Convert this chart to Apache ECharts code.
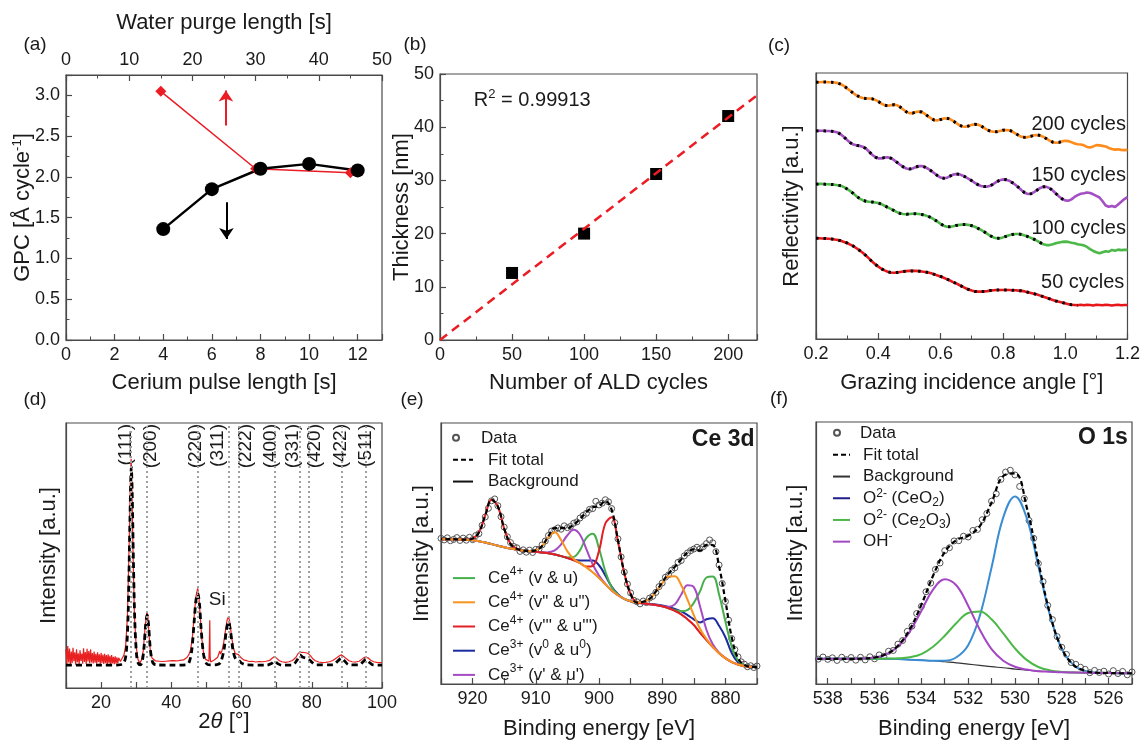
<!DOCTYPE html>
<html>
<head>
<meta charset="utf-8">
<title>CeO2 ALD characterisation</title>
<script src="https://cdn.jsdelivr.net/npm/echarts@6/dist/echarts.min.js"></script>
<style>
  html, body { margin: 0; padding: 0; background: #ffffff; }
  #chart { width: 1143px; height: 742px; }
</style>
</head>
<body>
<div id="chart"></div>
<script>
// ---------- (a) growth per cycle ----------
const pulseLength = [4, 6, 8, 10, 12];            // cerium pulse [s]
const gpcPulse    = [1.36, 1.85, 2.10, 2.16, 2.08];
const purgeLength = [15, 30, 45];                  // water purge [s]
const gpcPurge    = [3.05, 2.10, 2.05];
const purgeArrow  = [[25.3, 2.63], [25.3, 3.06]];  // points to the top axis
const pulseArrow  = [[6.6, 1.69], [6.6, 1.24]];    // points to the bottom axis

// ---------- (b) thickness vs. cycles ----------
const aldCycles = [50, 100, 150, 200];
const thickness = [12.6, 20.0, 31.2, 42.1];
const linearFit = [[0, 0], [220, 46.0]];
const rSquared  = '0.99913';

// ---------- (c) X-ray reflectivity, 0.20..1.20 deg in 0.01 steps ----------
const xrrStart = 0.2, xrrStep = 0.01;
const xrr200 = [96.5,96.5,96.6,96.6,96.5,96.5,96.4,96.2,95.8,95.1,
  94.2,93.3,92.4,91.6,91.0,90.6,90.4,90.4,90.3,89.9,
  89.3,88.5,87.9,87.7,87.9,88.1,87.9,87.2,86.3,85.4,
  84.9,84.9,85.3,85.5,85.3,84.6,83.7,82.9,82.3,82.2,
  82.5,82.9,83.0,82.7,82.0,81.2,80.4,79.9,79.8,80.1,
  80.5,80.7,80.6,80.1,79.3,78.6,78.1,77.9,77.9,78.2,
  78.5,78.6,78.5,78.0,77.3,76.6,76.0,75.8,75.9,76.2,
  76.6,76.7,76.5,76.0,75.3,74.6,74.0,73.8,73.9,74.3,
  74.5,74.4,74.0,73.5,73.2,73.1,72.8,72.2,72.0,72.4,
  72.9,72.8,72.6,72.4,71.8,71.4,71.2,71.3,71.1,71.0,
  71.1];
const xrr150 = [78.2,78.3,78.3,78.2,78.2,78.1,77.9,77.6,76.9,75.9,
  74.8,73.8,73.1,72.8,72.6,72.3,71.6,70.5,69.3,68.4,
  67.9,67.9,68.2,68.3,68.0,67.3,66.4,65.5,64.7,64.1,
  63.9,64.1,64.6,65.0,65.0,64.6,64.0,63.2,62.3,61.4,
  60.7,60.4,60.6,61.2,61.8,62.0,61.9,61.5,60.9,60.2,
  59.5,58.7,58.0,57.5,57.3,57.3,57.6,58.3,59.1,59.7,
  60.0,59.9,59.5,58.8,58.0,57.0,55.9,55.0,54.5,54.6,
  55.2,56.0,56.8,57.2,57.2,56.7,55.8,54.7,53.6,52.7,
  52.1,52.0,52.5,53.4,54.1,54.6,54.8,55.1,54.9,54.4,
  53.8,53.2,51.8,50.2,49.7,50.0,49.6,50.6,51.6,52.6,
  53.3];
const xrr100 = [58.2,58.3,58.3,58.2,58.2,58.1,58.0,57.8,57.6,57.1,
  56.4,55.6,54.7,53.7,52.8,52.2,51.8,51.6,51.5,51.3,
  51.1,50.7,50.1,49.5,48.9,48.3,47.7,47.2,47.0,46.9,
  47.0,47.1,47.1,47.0,46.8,46.5,46.1,45.6,44.9,44.1,
  43.3,42.6,42.2,42.2,42.4,42.7,42.9,43.0,43.0,42.9,
  42.6,42.2,41.6,41.0,40.3,39.5,38.8,38.2,37.9,37.9,
  38.2,38.6,39.0,39.3,39.5,39.5,39.3,38.9,38.5,38.0,
  37.5,36.9,36.2,35.6,35.3,35.3,35.6,36.0,36.3,36.5,
  36.6,36.5,36.2,36.0,35.6,35.4,35.2,34.6,33.8,33.1,
  32.6,32.2,32.6,33.0,32.8,33.5,33.2,33.6,33.4,33.5,
  33.5];
const xrr50 = [37.9,37.9,37.8,37.8,37.7,37.6,37.4,37.2,36.9,36.5,
  36.1,35.5,34.9,34.1,33.3,32.4,31.4,30.3,29.1,28.1,
  27.2,26.4,25.8,25.3,25.0,24.9,25.0,25.2,25.4,25.5,
  25.6,25.6,25.6,25.5,25.4,25.2,25.0,24.7,24.3,23.9,
  23.5,23.0,22.5,22.0,21.4,20.9,20.3,19.7,19.1,18.6,
  18.2,17.9,17.8,17.8,17.9,18.0,18.2,18.3,18.4,18.4,
  18.4,18.4,18.4,18.3,18.3,18.2,18.1,17.9,17.6,17.3,
  17.0,16.7,16.3,15.9,15.5,15.1,14.7,14.3,14.0,13.7,
  13.4,13.1,12.9,12.8,12.7,12.9,12.7,12.9,12.8,12.6,
  12.9,12.8,12.7,12.9,12.8,12.6,12.8,12.9,12.7,12.8,
  12.8];
const xrrLabels   = ['200 cycles', '150 cycles', '100 cycles', '50 cycles'];
const xrrFitEnd   = [1.00, 1.00, 0.94, 1.04];     // last angle of each fitted range

// ---------- (d) XRD ----------
const xrdScan = [
  [10.00,14.6],[10.25,8.9],[10.50,15.8],[10.75,9.6],[11.00,14.9],[11.25,8.6],[11.50,13.8],[11.75,9.4],
  [12.00,15.2],[12.25,10.1],[12.50,13.5],[12.75,8.8],[13.00,14.6],[13.25,9.7],[13.50,13.1],[13.75,9.0],
  [14.00,14.2],[14.25,10.2],[14.50,13.0],[14.75,9.2],[15.00,15.0],[15.25,9.8],[15.50,13.6],[15.75,9.1],
  [16.00,14.8],[16.25,10.0],[16.50,13.9],[16.75,9.4],[17.00,14.6],[17.25,9.6],[17.50,13.2],[17.75,9.3],
  [18.00,13.8],[18.25,9.5],[18.50,12.9],[18.75,9.2],[19.00,13.5],[19.25,9.8],[19.50,12.7],[19.75,9.0],
  [20.00,13.3],[20.25,9.5],[20.50,12.6],[20.75,9.1],[21.00,12.9],[21.25,9.4],[21.50,12.4],[21.75,9.0],
  [22.00,12.7],[22.25,9.4],[22.50,12.1],[22.75,8.9],[23.00,12.4],[23.25,9.3],[23.50,11.8],[23.75,9.0],
  [24.00,12.0],[24.25,9.2],[24.50,11.6],[24.75,9.3],[25.00,11.4],[25.50,10.0],[26.00,11.2],[26.50,12.4],
  [27.00,16.0],[27.50,27.0],[28.00,55.0],[28.30,76.0],[28.55,86.5],[28.80,74.0],[29.10,50.0],[29.50,27.0],
  [30.00,15.5],[30.50,10.8],[31.00,9.4],[31.50,10.5],[32.00,14.0],[32.50,22.5],[33.00,28.8],[33.30,27.5],
  [33.60,21.0],[34.00,14.2],[34.50,11.3],[35.00,10.6],[35.50,10.2],[36.00,10.7],[36.50,10.1],[37.00,10.5],
  [37.50,10.0],[38.00,10.4],[38.50,10.1],[39.00,10.6],[39.50,10.2],[40.00,10.5],[40.50,10.3],[41.00,10.7],
  [41.50,10.2],[42.00,10.6],[42.50,10.4],[43.00,10.9],[43.50,10.6],[44.00,11.2],[44.50,11.6],[45.00,12.6],
  [45.50,14.5],[46.00,19.0],[46.50,27.0],[47.00,34.5],[47.50,37.6],[47.80,35.5],[48.20,27.5],[48.70,18.5],
  [49.20,13.0],[49.70,10.9],[50.20,10.3],[50.70,10.1],[50.85,18.0],[50.95,25.6],[51.05,12.0],[51.20,9.8],
  [51.70,10.2],[52.20,10.6],[52.70,11.1],[53.20,11.6],[53.60,12.3],[53.80,14.0],[54.00,12.8],[54.40,14.0],
  [54.90,17.0],[55.40,21.5],[55.90,25.8],[56.30,27.0],[56.70,24.5],[57.20,19.0],[57.70,15.0],[58.20,13.0],
  [58.70,12.5],[59.10,12.6],[59.60,11.8],[60.20,11.0],[60.80,10.5],[61.50,10.3],[62.20,10.0],[63.00,10.1],
  [64.00,9.8],[65.00,10.0],[66.00,9.9],[67.00,10.1],[68.00,10.4],[68.70,11.2],[69.40,11.9],[70.10,11.1],
  [70.80,10.3],[71.50,9.9],[72.50,9.7],[73.50,9.9],[74.50,10.4],[75.50,11.6],[76.20,13.2],[76.70,13.9],
  [77.20,13.5],[77.70,13.1],[78.30,13.3],[79.00,13.0],[79.60,12.2],[80.30,11.0],[81.00,10.3],[82.00,9.8],
  [83.00,9.6],[84.00,9.7],[85.00,9.9],[86.00,10.4],[87.00,11.3],[87.80,12.1],[88.40,12.5],[89.00,12.0],
  [89.80,11.1],[90.60,10.3],[91.50,9.9],[92.50,9.8],[93.50,10.1],[94.30,10.9],[95.00,11.6],[95.40,11.8],
  [96.00,11.4],[96.80,10.5],[97.60,9.9],[98.50,9.7],[99.30,9.6],[100.00,9.6]
];
const xrdFit = [
  [10,8.6],[20,8.6],[25,8.7],[26.5,9.5],[27.2,14],[27.7,28],[28.1,55],[28.4,76],[28.6,83.4],[28.85,74],
  [29.2,48],[29.6,25],[30.1,12.5],[30.6,9.2],[31.2,8.7],[31.7,10],[32.2,15],[32.7,24],[33.1,27.5],[33.5,24],
  [34.0,15],[34.6,10],[35.5,8.8],[40,8.6],[44,8.7],[45,9.5],[45.8,14],[46.5,25],[47.0,33],[47.5,35.7],
  [48.0,32],[48.5,22],[49.2,12.5],[50.0,9.2],[51,8.7],[53,8.8],[54,9.6],[55,14.5],[55.7,22],[56.3,25],
  [56.9,21],[57.6,14],[58.3,11],[59.1,10.6],[60,9.4],[61.5,8.7],[67,8.6],[68.5,9.2],[69.4,10.2],[70.3,9.2],
  [71.5,8.6],[74.5,8.7],[75.8,10.5],[76.7,12.4],[77.5,11.6],[79.0,11.0],[80.0,9.8],[81.2,8.7],[86,8.7],[87.5,10.3],
  [88.4,11.3],[89.3,10.3],[90.5,8.8],[93.5,8.7],[94.6,9.9],[95.4,10.8],[96.3,9.8],[97.5,8.7],[100,8.6]
];
const reflexAngle      = [28.55, 33.08, 47.48, 56.34, 59.09, 69.40, 76.70, 79.07, 88.44, 95.40];
const reflexHkl        = ['(111)', '(200)', '(220)', '(311)', '(222)', '(400)', '(331)', '(420)', '(422)', '(511)'];
const reflexLabelAngle = [26.9, 34.2, 46.9, 53.3, 61.3, 68.4, 74.6, 80.8, 88.3, 95.5];
const siReflex         = [50.65, 33.2];

// ---------- (e) Ce 3d XPS, 875..925 eV in 1 eV steps ----------
const ceStart = 875, ceStep = 1;
const ceBackground = [6.5,6.6,6.9,7.5,8.4,9.9,11.8,14.2,16.8,19.6,22.6,24.8,26.7,28.0,29.0,29.8,30.3,30.6,30.9,31.2,
  31.7,32.6,34.0,35.8,38.2,40.6,42.8,44.7,46.3,47.4,48.3,49.0,49.6,50.1,50.4,50.7,50.9,51.1,51.5,51.9,
  52.4,53.0,53.6,54.2,54.7,55.1,55.3,55.4,55.5,55.5,55.5];
const ceVU = [6.5,6.6,7.2,9.0,14.4,23.9,34.3,41.2,40.8,35.6,31.1,28.3,27.9,28.3,29.0,29.8,30.3,30.6,30.9,31.2,
  31.7,32.6,34.2,37.1,43.2,51.9,57.6,56.0,51.3,48.7,48.5,49.0,49.6,50.1,50.4,50.7,50.9,51.1,51.5,51.9,
  52.4,53.0,53.6,54.2,54.7,55.1,55.3,55.4,55.5,55.5,55.5];
const ceV2U2 = [6.5,6.6,6.9,7.5,8.4,9.9,11.8,14.2,17.3,21.1,26.4,32.3,37.9,41.3,41.2,38.6,35.3,32.6,31.5,31.2,
  31.7,32.6,34.0,35.8,38.2,40.6,42.8,44.7,46.3,47.9,50.8,55.2,58.1,56.3,52.9,51.2,50.9,51.1,51.5,51.9,
  52.4,53.0,53.6,54.2,54.7,55.1,55.3,55.4,55.5,55.5,55.5];
const ceV3U3 = [6.5,6.6,6.9,7.5,8.4,9.9,11.8,14.2,16.8,19.6,22.6,24.8,26.7,28.0,29.0,29.8,30.3,30.6,30.9,31.2,
  34.5,42.6,54.5,63.9,61.5,51.0,45.3,45.0,46.3,47.4,48.3,49.0,49.6,50.1,50.4,50.7,50.9,51.1,51.8,53.7,
  59.5,68.0,70.6,64.6,58.1,55.7,55.3,55.4,55.5,55.5,55.5];
const ceV0U0 = [6.5,6.6,7.0,8.3,11.9,17.9,22.3,25.2,24.8,23.6,24.8,26.4,27.8,28.8,29.5,30.1,30.5,30.7,30.9,31.2,
  31.7,32.6,34.4,37.3,41.6,45.5,47.3,47.3,47.3,47.6,48.3,49.0,49.6,50.1,50.4,50.7,50.9,51.1,51.5,51.9,
  52.4,53.0,53.6,54.2,54.7,55.1,55.3,55.4,55.5,55.5,55.5];
const ceV1U1 = [6.5,6.6,6.9,7.5,8.4,9.9,12.0,15.2,20.8,29.6,37.1,37.8,34.2,30.5,29.6,29.8,30.3,30.6,30.9,31.2,
  31.7,32.6,34.0,35.8,38.4,41.6,45.9,51.7,57.2,59.1,57.0,53.5,51.2,50.5,50.4,50.7,50.9,51.1,51.5,51.9,
  52.4,53.0,53.6,54.2,54.7,55.1,55.3,55.4,55.5,55.5,55.5];
const ceFitTotal = [6.5,6.6,7.3,9.8,17.9,31.9,45.0,53.2,53.3,51.1,51.6,50.4,47.7,44.9,42.3,38.9,35.5,32.6,31.5,31.2,
  34.5,42.6,55.1,66.7,70.1,68.2,67.7,65.9,63.2,61.1,59.7,59.7,59.7,56.7,52.9,51.2,50.9,51.1,51.8,53.7,
  59.5,68.0,70.6,64.6,58.1,55.7,55.3,55.4,55.5,55.5,55.5];
// measured counts, 875..925 eV in 0.5 eV steps
const ceDataStart = 875, ceDataStep = 0.5;
const ceMeasured = [6.9,6.3,7.0,6.6,7.6,8.5,10.4,13.2,17.4,24.5,31.6,38.5,45.6,50.7,54.1,55.2,53.8,52.6,51.8,52.4,
  51.7,51.1,50.2,49.1,47.3,46.6,44.5,43.6,41.8,40.9,38.7,37.3,35.1,33.6,32.9,31.2,31.8,30.7,31.5,32.1,
  34.9,38.3,42.9,48.7,55.6,61.8,67.2,69.8,70.6,69.3,68.6,70.0,67.2,66.9,65.4,64.6,63.6,62.1,61.6,60.4,
  59.9,60.6,59.3,59.8,59.1,58.6,56.9,54.8,53.3,51.6,51.6,50.4,51.3,50.5,51.4,50.8,52.2,52.7,54.2,56.4,
  60.1,64.1,68.3,70.9,70.2,67.3,64.0,60.8,57.6,56.9,55.3,56.2,55.1,55.9,55.0,56.1,55.4,54.9,56.0,55.2,
  55.8];

// ---------- (f) O 1s XPS, 525..538.5 eV in 0.5 eV steps ----------
const oStart = 525, oStep = 0.5;
const oBackground = [4.1,4.1,4.2,4.2,4.3,4.4,4.5,4.7,4.9,5.3,5.7,6.2,6.6,7.1,7.6,8.1,8.5,8.9,9.1,9.3,9.5,9.6,9.6,9.6,9.6,9.6,9.6,9.6];
const oCeO2       = [4.1,4.1,4.2,4.3,5.0,7.3,13.4,26.1,44.9,63.4,71.6,63.6,44.5,26.1,14.8,10.2,8.9,8.9,9.1,9.3,9.5,9.6,9.6,9.6,9.6,9.6,9.6,9.6];
const oCe2O3      = [4.1,4.1,4.2,4.2,4.3,4.4,4.6,5.2,6.5,9.2,13.6,19.3,24.7,27.7,27.1,23.3,18.4,14.2,11.4,10.2,9.8,9.7,9.6,9.6,9.6,9.6,9.6,9.6];
const oHydroxide  = [4.1,4.1,4.2,4.2,4.3,4.4,4.5,4.7,4.9,5.5,6.6,8.9,13.3,20.7,29.9,37.6,40.0,36.0,27.9,19.9,14.3,11.3,10.1,9.7,9.6,9.6,9.6,9.6];
const oFitTotal   = [4.1,4.1,4.2,4.3,5.0,7.3,13.5,26.6,46.5,67.5,80.4,79.4,69.3,60.3,56.6,54.9,50.3,41.3,30.2,20.8,14.6,11.4,10.1,9.7,9.6,9.6,9.6,9.6];
// measured counts, 525.0..538.4 eV in 0.2 eV steps
const oDataStart = 525, oDataStep = 0.2;
const oMeasured = [4.6,3.5,4.8,4.0,5.1,3.8,4.9,4.4,5.2,4.3,5.6,6.4,7.5,8.2,11.3,14.0,18.1,24.6,30.0,39.1,
  46.0,55.6,62.4,70.8,75.4,79.8,81.6,80.9,78.1,72.6,69.8,65.1,62.7,59.0,58.6,56.1,56.4,54.7,54.6,52.0,
  50.9,46.2,43.7,38.5,35.2,29.6,26.9,22.1,20.1,16.6,15.2,12.8,12.5,10.6,11.1,9.6,10.4,9.2,10.2,9.1,
  10.1,9.3,10.2,9.0,10.0,9.4,10.3,9.5];

// ---------- shared styling ----------
const FONT  = '"Liberation Sans", Arial, Helvetica, sans-serif';
const INK   = '#1a1a1a';
const FRAME = '#4a4a4a';
const RED   = '#ec1c24';

const supRich = {
  sup: { fontSize: 13, lineHeight: 13, verticalAlign: 'top', fontFamily: FONT, color: INK },
  sub: { fontSize: 13, lineHeight: 13, verticalAlign: 'bottom', fontFamily: FONT, color: INK },
  it:  { fontStyle: 'italic', fontSize: 22, fontFamily: FONT, color: INK }
};

function merge(base, extra) {
  const out = Object.assign({}, base);
  for (const k in extra) {
    const v = extra[k];
    if (v && typeof v === 'object' && !Array.isArray(v) && base[k] && typeof base[k] === 'object' && !Array.isArray(base[k])) {
      out[k] = merge(base[k], v);
    } else {
      out[k] = v;
    }
  }
  return out;
}
const isMultiple = (v, n) => Math.abs(v / n - Math.round(v / n)) < 1e-6;
const labelEvery = (n, digits) => v => isMultiple(v, n) ? v.toFixed(digits) : '';
const pairs = (start, step, values) => values.map((v, i) => [+(start + i * step).toFixed(3), v]);
const zip = (xs, ys) => xs.map((x, i) => [x, ys[i]]);

const baseAxis = {
  type: 'value',
  nameLocation: 'middle',
  nameMoveOverlap: false,
  nameTextStyle: { color: INK, fontSize: 22, fontFamily: FONT, lineHeight: 24, rich: supRich },
  axisLine: { show: true, onZero: false, lineStyle: { color: FRAME, width: 1.2 } },
  axisTick: { show: true, inside: true, length: 6, lineStyle: { color: FRAME, width: 1.2 } },
  minorTick: { show: false, splitNumber: 2, length: 3.5, lineStyle: { color: FRAME, width: 1 } },
  axisLabel: { show: true, color: INK, fontSize: 18, fontFamily: FONT, margin: 6 },
  splitLine: { show: false },
  minorSplitLine: { show: false }
};
const axis = extra => merge(baseAxis, extra);
const blankY = (gridIndex, name, nameGap) => axis({
  gridIndex, min: 0, max: 100, name, nameGap,
  axisTick: { show: false }, axisLabel: { show: false }
});

const grids = [
  { left: 66,  top: 75,  width: 316, height: 265 },
  { left: 440, top: 74,  width: 317, height: 266 },
  { left: 816, top: 73,  width: 316, height: 266 },
  { left: 66,  top: 423, width: 316, height: 265 },
  { left: 441, top: 423, width: 316, height: 265 },
  { left: 816, top: 422, width: 316, height: 266 }
].map(g => Object.assign({ show: true, borderColor: FRAME, borderWidth: 1.2, backgroundColor: 'transparent' }, g));

const xAxes = [
  axis({ gridIndex: 0, position: 'bottom', min: 0, max: 13, interval: 2, name: 'Cerium pulse length [s]', nameGap: 31,
         minorTick: { show: true }, axisLabel: { formatter: labelEvery(2, 0) } }),
  axis({ gridIndex: 0, position: 'top', min: 0, max: 50, interval: 10, name: 'Water purge length [s]', nameGap: 40,
         minorTick: { show: true }, axisLabel: { margin: 6 } }),
  axis({ gridIndex: 1, min: 0, max: 220, interval: 50, name: 'Number of ALD cycles', nameGap: 31,
         minorTick: { show: true }, axisLabel: { formatter: labelEvery(50, 0) } }),
  axis({ gridIndex: 2, min: 0.2, max: 1.2, interval: 0.2, name: 'Grazing incidence angle [°]', nameGap: 32,
         minorTick: { show: true }, axisLabel: { formatter: labelEvery(0.2, 1) } }),
  axis({ gridIndex: 3, min: 10, max: 100, interval: 10, name: '2{it|θ} [°]', nameGap: 22,
         axisLabel: { formatter: labelEvery(20, 0) } }),
  axis({ gridIndex: 4, min: 875, max: 925, interval: 5, inverse: true, name: 'Binding energy [eV]', nameGap: 33,
         axisLabel: { formatter: labelEvery(10, 0) } }),
  axis({ gridIndex: 5, min: 525, max: 538.5, interval: 1, inverse: true, name: 'Binding energy [eV]', nameGap: 33,
         axisLabel: { formatter: labelEvery(2, 0) } })
];
const yAxes = [
  axis({ gridIndex: 0, min: 0, max: 3.25, interval: 0.5, name: 'GPC [Å cycle{sup|-1}]', nameGap: 31,
         minorTick: { show: true }, axisLabel: { formatter: labelEvery(0.5, 1) } }),
  axis({ gridIndex: 1, min: 0, max: 50, interval: 10, name: 'Thickness [nm]', nameGap: 26,
         minorTick: { show: true }, axisLabel: { formatter: labelEvery(10, 0) } }),
  blankY(2, 'Reflectivity [a.u.]', 12),
  blankY(3, 'Intensity [a.u.]', 5),
  blankY(4, 'Intensity [a.u.]', 7),
  blankY(5, 'Intensity [a.u.]', 8)
];

const arrowLine = (pts, color) => ({
  silent: true, symbol: ['none', 'arrow'], symbolSize: 11,
  lineStyle: { color, width: 2, type: 'solid' }, label: { show: false },
  emphasis: { disabled: true },
  data: [[{ coord: pts[0] }, { coord: pts[1] }]]
});

const series = [];

// (a)
series.push({
  type: 'line', name: 'purge', xAxisIndex: 1, yAxisIndex: 0, data: zip(purgeLength, gpcPurge),
  symbol: 'diamond', symbolSize: 11, color: RED, itemStyle: { color: RED, opacity: 1 },
  lineStyle: { color: RED, width: 1.5 }, markLine: arrowLine(purgeArrow, RED)
});
series.push({
  type: 'line', name: 'pulse', xAxisIndex: 0, yAxisIndex: 0, data: zip(pulseLength, gpcPulse),
  symbol: 'circle', symbolSize: 14, color: '#000', itemStyle: { color: '#000', opacity: 1 },
  lineStyle: { color: '#000', width: 2.5 }, markLine: arrowLine(pulseArrow, '#000')
});

// (b)
series.push({
  type: 'scatter', name: 'thickness', xAxisIndex: 2, yAxisIndex: 1, data: zip(aldCycles, thickness),
  symbol: 'rect', symbolSize: 12, itemStyle: { color: '#000', opacity: 1 }
});
series.push({
  type: 'line', name: 'linear fit', xAxisIndex: 2, yAxisIndex: 1, data: linearFit, symbol: 'none',
  lineStyle: { color: RED, width: 2.5, type: [9, 6] }
});

// (c)
const xrrSets = [
  { values: xrr200, color: '#ff8c1a' },
  { values: xrr150, color: '#a54fc5' },
  { values: xrr100, color: '#4cb848' },
  { values: xrr50,  color: '#e8161b' }
];
xrrSets.forEach((s, k) => {
  const pts = pairs(xrrStart, xrrStep, s.values);
  series.push({
    type: 'line', name: xrrLabels[k], xAxisIndex: 3, yAxisIndex: 2, data: pts, symbol: 'none',
    lineStyle: { color: s.color, width: 2.6 }
  });
  series.push({
    type: 'line', name: xrrLabels[k] + ' fit', xAxisIndex: 3, yAxisIndex: 2,
    data: pts.filter(p => p[0] <= xrrFitEnd[k] + 1e-6), symbol: 'none',
    lineStyle: { color: '#000', width: 3, type: [2.5, 5], cap: 'butt' }
  });
});

// (d)
series.push({
  type: 'line', name: 'XRD scan', xAxisIndex: 4, yAxisIndex: 3, data: xrdScan, symbol: 'none',
  lineStyle: { color: '#e82020', width: 1.2 },
  markLine: {
    silent: true, symbol: ['none', 'none'],
    lineStyle: { color: '#a0a0a0', width: 2, type: [2, 3] },
    label: { show: false },
    emphasis: { disabled: true },
    data: reflexAngle.map((a, i) => ({ xAxis: a, name: reflexHkl[i] }))
  }
});
series.push({
  type: 'line', name: 'XRD fit', xAxisIndex: 4, yAxisIndex: 3, data: xrdFit, symbol: 'none', smooth: 0.3,
  lineStyle: { color: '#000', width: 2.8, type: [6, 4] }
});

// (e)
const ceLine = (name, values, color, width) => ({
  type: 'line', name, xAxisIndex: 5, yAxisIndex: 4, data: pairs(ceStart, ceStep, values), symbol: 'none',
  smooth: 0.4, color, itemStyle: { color }, lineStyle: { color, width }
});
series.push(ceLine('Background', ceBackground, '#111', 1.2));
series.push(ceLine('Ce3+ (v0 & u0)', ceV0U0, '#1b2a9c', 2));
series.push(ceLine('Ce4+ (v & u)', ceVU, '#45b04b', 2));
series.push(ceLine("Ce3+ (v' & u')", ceV1U1, '#a44cc2', 2));
series.push(ceLine("Ce4+ (v''' & u''')", ceV3U3, '#e31e24', 2));
series.push(ceLine('Ce4+ (v" & u")', ceV2U2, '#f7931e', 2));
series.push({
  type: 'scatter', name: 'Data', xAxisIndex: 5, yAxisIndex: 4, data: pairs(ceDataStart, ceDataStep, ceMeasured),
  symbol: 'circle', symbolSize: 6, itemStyle: { color: 'rgba(255,255,255,0)', borderColor: '#555', borderWidth: 1, opacity: 1 }
});
series.push({
  type: 'line', name: 'Fit total', xAxisIndex: 5, yAxisIndex: 4, data: pairs(ceStart, ceStep, ceFitTotal),
  symbol: 'none', smooth: 0.4, color: '#000', itemStyle: { color: '#000' }, lineStyle: { color: '#000', width: 2.2, type: [5, 3] }
});

// (f)
const oLine = (name, values, color, width) => ({
  type: 'line', name, xAxisIndex: 6, yAxisIndex: 5, data: pairs(oStart, oStep, values), symbol: 'none',
  smooth: 0.4, color, itemStyle: { color }, lineStyle: { color, width }
});
series.push(oLine('Background ', oBackground, '#333', 1.2));
series.push(oLine('O2- (CeO2)', oCeO2, '#3a8dd2', 2));
series.push(oLine('O2- (Ce2O3)', oCe2O3, '#4cb848', 2));
series.push(oLine('OH-', oHydroxide, '#a347c3', 2));
series.push({
  type: 'scatter', name: 'Data ', xAxisIndex: 6, yAxisIndex: 5, data: pairs(oDataStart, oDataStep, oMeasured),
  symbol: 'circle', symbolSize: 6, itemStyle: { color: 'rgba(255,255,255,0)', borderColor: '#555', borderWidth: 1, opacity: 1 }
});
series.push({
  type: 'line', name: 'Fit total ', xAxisIndex: 6, yAxisIndex: 5, data: pairs(oStart, oStep, oFitTotal),
  symbol: 'none', smooth: 0.4, color: '#000', itemStyle: { color: '#000' }, lineStyle: { color: '#000', width: 2.2, type: [5, 3] }
});

// ---------- legends ----------
const legendText = {
  'Data': 'Data', 'Fit total': 'Fit total', 'Background': 'Background',
  'Data ': 'Data', 'Fit total ': 'Fit total', 'Background ': 'Background',
  'Ce4+ (v & u)': 'Ce{sup|4+} (v & u)',
  'Ce4+ (v" & u")': 'Ce{sup|4+} (v" & u")',
  "Ce4+ (v''' & u''')": "Ce{sup|4+} (v''' & u''')",
  'Ce3+ (v0 & u0)': 'Ce{sup|3+} (v{sup|0} & u{sup|0})',
  "Ce3+ (v' & u')": "Ce{sup|3+} (v' & u')",
  'O2- (CeO2)': 'O{sup|2-} (CeO{sub|2})',
  'O2- (Ce2O3)': 'O{sup|2-} (Ce{sub|2}O{sub|3})',
  'OH-': 'OH{sup|-}'
};
const legendBase = (left, top, rowHeight, textPad, itemWidth, itemHeight, data, lineOnly) => ({
  orient: 'vertical', left, top, padding: 0, itemGap: 0, itemWidth, itemHeight,
  selectedMode: false, data,
  itemStyle: lineOnly ? { opacity: 0 } : {},
  formatter: name => legendText[name] || name,
  textStyle: {
    color: INK, fontSize: 17, fontFamily: FONT, lineHeight: rowHeight, padding: [0, 0, 0, textPad],
    rich: {
      sup: { fontSize: 12, lineHeight: 12, verticalAlign: 'top', fontFamily: FONT, color: INK },
      sub: { fontSize: 12, lineHeight: 12, verticalAlign: 'bottom', fontFamily: FONT, color: INK }
    }
  }
});
const legends = [
  legendBase(452, 427, 21.7, 10, 20, 6, ['Data'], false),
  legendBase(452, 449, 21.7, 10, 20, 12, ['Fit total', 'Background'], true),
  legendBase(452, 566, 24.2, 8, 22, 12, ['Ce4+ (v & u)', 'Ce4+ (v" & u")', "Ce4+ (v''' & u''')", 'Ce3+ (v0 & u0)', "Ce3+ (v' & u')"], true),
  legendBase(833, 422, 21.7, 14, 8, 6, ['Data '], false),
  legendBase(832, 444, 21.7, 8, 17, 12, ['Fit total ', 'Background ',
    { name: 'O2- (CeO2)', lineStyle: { color: '#1f1f8c' } },
    'O2- (Ce2O3)', 'OH-'], true)
];

const chart = echarts.init(document.getElementById('chart'), null, { renderer: 'canvas', width: 1143, height: 742 });
chart.setOption({
  animation: false,
  backgroundColor: '#ffffff',
  textStyle: { fontFamily: FONT },
  grid: grids,
  xAxis: xAxes,
  yAxis: yAxes,
  legend: legends,
  series
});

// ---------- annotations, anchored to data coordinates ----------
const at = (xi, yi, pt) => chart.convertToPixel({ xAxisIndex: xi, yAxisIndex: yi }, pt);
const textEl = (pos, text, opts, extra) => Object.assign({
  type: 'text', x: pos[0], y: pos[1], silent: true,
  style: Object.assign({ text, fill: INK, fontFamily: FONT, fontSize: 20, align: 'left', verticalAlign: 'middle' }, opts || {})
}, extra || {});
const panelLetters = [['(a)', 35, 45], ['(b)', 415, 45], ['(c)', 779, 46], ['(d)', 35, 400], ['(e)', 412, 400], ['(f)', 779, 399]];
const xrrLabelPos = [[1.195, 80.8], [1.195, 61.3], [1.195, 41.4], [1.19, 21.4]];

const graphics = panelLetters.map(p => textEl([p[1], p[2]], p[0], { align: 'center', fontSize: 19 }));
graphics.push(textEl(at(2, 1, [23.5, 45.1]), 'R{sup|2} = ' + rSquared, {
  fontSize: 20, lineHeight: 24,
  rich: { sup: { fontSize: 13, lineHeight: 13, verticalAlign: 'top', fontFamily: FONT, fill: INK } }
}));
xrrLabels.forEach((t, k) => graphics.push(textEl(at(3, 2, xrrLabelPos[k]), t, { align: 'right', fontSize: 20 })));
reflexHkl.forEach((t, k) => {
  const p = at(4, 3, [reflexLabelAngle[k], 100]);
  graphics.push(textEl([p[0], p[1] + 1], t, { align: 'right', fontSize: 19 }, { rotation: Math.PI / 2 }));
});
graphics.push(textEl(at(4, 3, siReflex), 'Si', { fontSize: 19 }));
graphics.push(textEl(at(5, 4, [875.4, 93.5]), 'Ce 3d', { align: 'right', fontSize: 23, fontWeight: 'bold' }));
graphics.push(textEl(at(6, 5, [525.18, 93.9]), 'O 1s', { align: 'right', fontSize: 23, fontWeight: 'bold' }));

chart.setOption({ graphic: graphics });
</script>
</body>
</html>
